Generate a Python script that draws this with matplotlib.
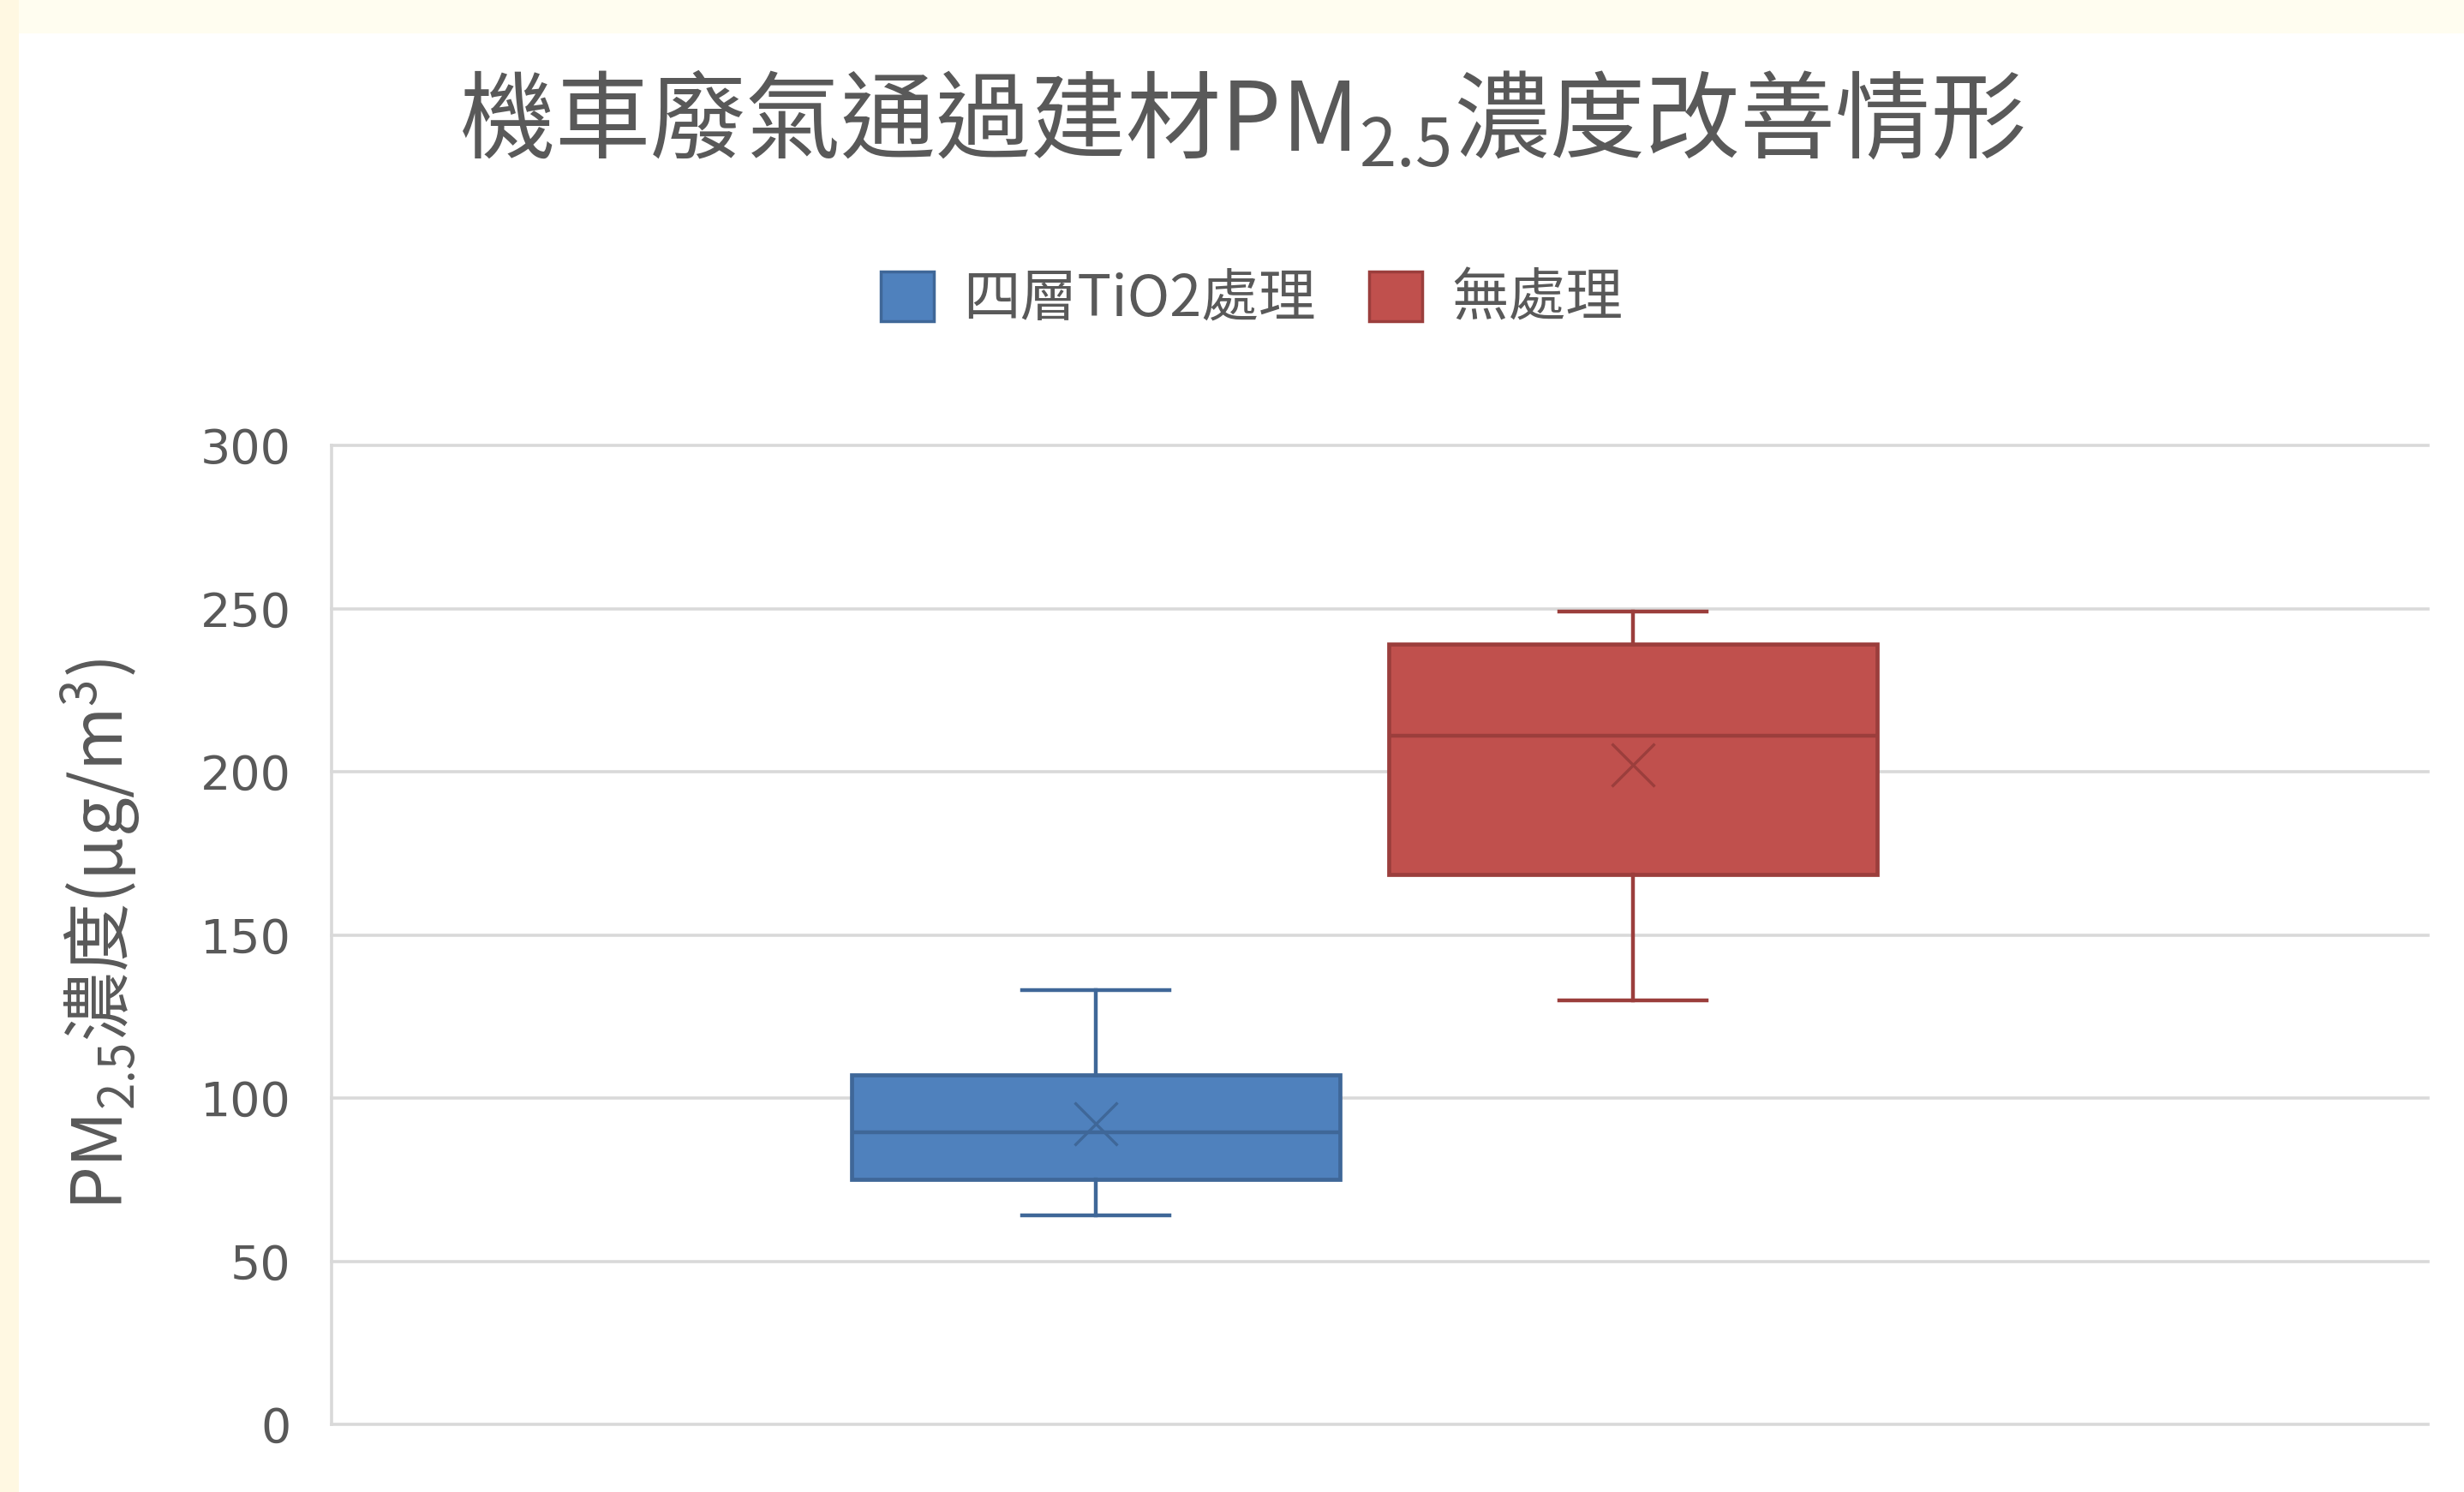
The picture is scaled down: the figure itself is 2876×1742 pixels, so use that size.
import matplotlib
matplotlib.use("Agg")
import matplotlib.pyplot as plt
from matplotlib.patches import Patch, Rectangle

# ---- data ----
series_names = ["四層TiO2處理", "無處理"]
whisker_low = [64, 130]
q1 = [75, 168.5]
median = [89.5, 211]
q3 = [107, 239]
whisker_high = [133, 249]
mean = [92, 202]
y_ticks = [0, 50, 100, 150, 200, 250, 300]

title_text = r"機車廢氣通過建材PM$_{2.5}$濃度改善情形"
ylabel_text = r"PM$_{2.5}$濃度(μg/m$^{3}$)"

# ---- style ----
fills = ["#4F81BD", "#C0504D"]
edges = ["#3F6798", "#9B3E3C"]
text_color = "#595959"
grid_color = "#D9D9D9"
positions = [0.3645, 0.6208]
box_width = 0.233
cap_width = 0.070

plt.rcParams["font.family"] = ["Noto Sans CJK TC", "DejaVu Sans"]
plt.rcParams["mathtext.fontset"] = "custom"
plt.rcParams["mathtext.rm"] = "Noto Sans CJK TC"
plt.rcParams["mathtext.it"] = "Noto Sans CJK TC"
plt.rcParams["mathtext.bf"] = "Noto Sans CJK TC:bold"
plt.rcParams["mathtext.default"] = "regular"

W, H = 2876, 1742
fig = plt.figure(figsize=(W / 100, H / 100), dpi=100, facecolor="white")

# cream page margins around the chart area
fig.add_artist(Rectangle((0, 1 - 39 / H), 1, 39 / H, transform=fig.transFigure,
                         facecolor="#FFFDF0", edgecolor="none", zorder=0))
fig.add_artist(Rectangle((0, 0), 22 / W, 1, transform=fig.transFigure,
                         facecolor="#FFF8E2", edgecolor="none", zorder=0))

left, right, top, bottom = 387, 2834, 520, 1663
ax = fig.add_axes([left / W, 1 - bottom / H, (right - left) / W, (bottom - top) / H])
ax.set_facecolor("none")

for i, name in enumerate(series_names):
    st = dict(label=name, whislo=whisker_low[i], q1=q1[i], med=median[i],
              q3=q3[i], whishi=whisker_high[i], mean=mean[i], fliers=[])
    ax.bxp([st], positions=[positions[i]], widths=[box_width], capwidths=[cap_width],
           patch_artist=True, showmeans=True, showfliers=False, manage_ticks=False,
           boxprops=dict(facecolor=fills[i], edgecolor=edges[i], linewidth=3.4),
           medianprops=dict(color=edges[i], linewidth=3.2),
           whiskerprops=dict(color=edges[i], linewidth=3.2),
           capprops=dict(color=edges[i], linewidth=3.2),
           meanprops=dict(marker="x", markeredgecolor=edges[i], markersize=36,
                          markeredgewidth=2.4))

ax.set_xlim(0, 1)
ax.set_ylim(0, 300)
ax.set_yticks(y_ticks)
ax.set_xticks([])
ax.set_axisbelow(True)
ax.yaxis.grid(True, color=grid_color, linewidth=2.6)
for ln in ax.get_ygridlines():
    ln.set_clip_on(False)
for s in ["top", "right", "bottom"]:
    ax.spines[s].set_visible(False)
ax.spines["left"].set_color(grid_color)
ax.spines["left"].set_linewidth(2.6)
ax.tick_params(axis="y", length=0, pad=34, labelsize=40, labelcolor=text_color)
for lbl in ax.get_yticklabels():
    lbl.set_family("DejaVu Sans")

fig.text(0.504, 1 - 177 / H, title_text, ha="center", va="baseline",
         fontsize=80, color=text_color)

fig.text(118 / W, 1 - 1091 / H, ylabel_text, rotation=90, ha="center", va="center",
         fontsize=58, color=text_color)

handles = [Patch(facecolor=fills[i], edgecolor=edges[i], linewidth=2.5)
           for i in range(len(series_names))]
fig.legend(handles, series_names, loc="center", bbox_to_anchor=(0.508, 1 - 350 / H),
           ncol=2, frameon=False, fontsize=48, handlelength=0.93, handleheight=0.95,
           handletextpad=0.5, columnspacing=0.95, labelcolor=text_color)

fig.savefig("out.png", dpi=100, facecolor=fig.get_facecolor())
